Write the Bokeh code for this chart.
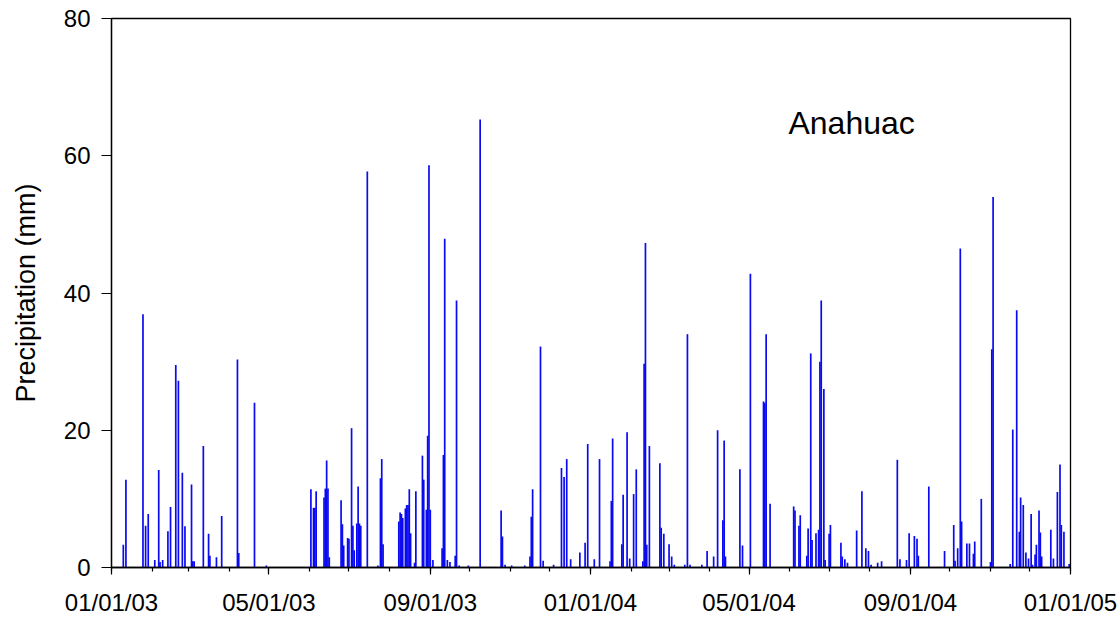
import pandas as pd
from bokeh.plotting import figure
from bokeh.models import FixedTicker, DatetimeTickFormatter, Label, ColumnDataSource, Range1d
from bokeh.embed import file_html
from bokeh.resources import INLINE

# Daily precipitation at Anahuac: day number counted from 01/01/03, and value (mm)
day_number = [
    9, 11, 24, 26, 28, 33, 36, 37, 39, 43, 45, 49, 51, 54, 56, 61, 62, 63, 70, 74,
    75, 80, 84, 96, 97, 109, 118,
    152, 154, 155, 156, 162, 163, 164, 165, 166, 175, 176, 177, 180, 181, 183, 184,
    185, 187, 188, 189, 190, 195, 203, 205, 206, 207, 219, 220, 221, 222, 224, 225,
    226, 227, 228, 231, 232, 237, 238, 240, 241, 242, 243,
    245, 252, 253, 254, 256, 258, 262, 263, 265, 272, 281, 297, 298, 300, 305, 315,
    319, 320, 321, 327, 329, 337, 343, 345, 347, 350, 357, 361, 363, 368,
    372, 380, 381, 382, 389, 390, 393, 395, 398, 400, 405, 406, 407, 408, 410, 418,
    419, 421, 425, 427, 429, 437, 439, 441, 450, 454, 459, 462, 466, 467, 468, 479,
    481, 487,
    497, 498, 499, 502, 520, 521, 524, 525, 530, 531, 533, 534, 537, 539, 540, 541,
    543, 544, 547, 548, 556, 557, 559, 561, 568, 572, 575, 577, 579, 584, 587, 599,
    601, 606, 608,
    612, 614, 615, 623, 635, 642, 643, 645, 647, 648, 652, 654, 657, 658, 663, 670,
    671, 672, 685, 687, 690, 692, 693, 695, 697, 699, 701, 702, 704, 705, 707, 708,
    709, 716, 718, 721, 723, 724, 726, 730,
]
precip_mm = [
    3.3, 12.8, 36.9, 6.1, 7.8, 1.1, 14.2, 0.8, 1.1, 5.3, 8.8, 29.5, 27.2, 13.8, 6.0, 12.1, 0.9, 0.9, 17.7, 4.9,
    1.7, 1.5, 7.5, 30.3, 2.1, 24.0, 0.3,
    11.4, 8.7, 8.7, 11.1, 10.2, 11.5, 15.6, 11.5, 1.5, 9.8, 6.3, 3.2, 4.3, 4.2, 20.3, 6.1,
    2.5, 6.4, 11.8, 6.4, 6.1, 57.7, 0.3, 13.0, 15.8, 3.4, 6.7, 8.0, 7.8, 7.2, 8.6, 9.1,
    9.1, 11.4, 5.0, 0.7, 11.1, 16.3, 12.8, 8.4, 19.2, 58.6, 8.4,
    1.1, 2.8, 16.4, 47.9, 1.1, 0.8, 1.7, 38.9, 0.3, 0.3, 65.3, 8.3, 4.5, 0.4, 0.3, 0.3,
    1.6, 7.4, 11.4, 32.2, 1.0, 0.4, 14.5, 13.2, 15.8, 1.2, 2.2, 3.6, 18.0, 1.2,
    15.8, 0.9, 9.7, 18.8, 3.4, 10.6, 19.7, 1.3, 10.7, 14.3, 0.9, 29.7, 47.3, 3.3, 17.7, 15.2,
    5.8, 4.9, 3.4, 1.6, 0.4, 0.4, 34.0, 0.4, 0.4, 2.4, 1.6, 20.0, 6.9, 18.5, 1.6, 14.3,
    3.2, 42.8,
    24.2, 24.0, 34.0, 9.3, 8.9, 8.3, 6.1, 7.6, 1.7, 5.7, 31.2, 4.0, 5.0, 5.5, 30.0, 38.9,
    26.0, 1.1, 4.9, 6.2, 3.6, 1.6, 1.2, 0.7, 5.4, 11.1, 2.8, 2.4, 0.4, 0.7, 0.9, 15.7,
    1.2, 1.1, 5.0,
    4.6, 4.2, 1.7, 11.8, 2.4, 6.2, 1.0, 2.8, 46.5, 6.7, 3.5, 3.5, 2.0, 3.8, 10.0, 0.8,
    31.8, 54.0, 0.5, 20.1, 37.5, 5.2, 10.2, 9.1, 2.2, 1.3, 7.8, 0.4, 1.9, 3.3, 8.3, 5.1,
    1.6, 5.5, 1.3, 11.0, 15.0, 6.2, 5.2, 0.5,
]

start_date = "2003-01-01"
end_date = "2005-01-01"
tick_dates = ["2003-01-01", "2003-05-01", "2003-09-01", "2004-01-01", "2004-05-01", "2004-09-01", "2005-01-01"]
tick_labels = ["01/01/03", "05/01/03", "09/01/03", "01/01/04", "05/01/04", "09/01/04", "01/01/05"]
y_ticks = [0, 20, 40, 60, 80]
station = "Anahuac"
y_title = "Precipitation (mm)"

start = pd.Timestamp(start_date)
dates = start + pd.to_timedelta(day_number, unit="D")
source = ColumnDataSource(dict(date=dates, zero=[0] * len(precip_mm), value=precip_mm))

def to_ms(ts):
    return int(pd.Timestamp(ts).value // 10**6)

major_ms = [to_ms(d) for d in tick_dates]
minor_ms = [to_ms(d) for d in pd.date_range(start_date, end_date, freq="MS")]

FONT = "Liberation Sans"

p = figure(width=1120, height=618, x_axis_type="datetime",
           x_range=Range1d(pd.Timestamp(start_date), pd.Timestamp(end_date)),
           y_range=Range1d(0, 80),
           output_backend="svg", toolbar_location=None,
           min_border_left=111, min_border_right=50, min_border_top=18, min_border_bottom=49)

p.segment(x0="date", y0="zero", x1="date", y1="value", source=source,
          line_color="#0a0af0", line_width=1.7)

p.xgrid.visible = False
p.ygrid.visible = False
p.outline_line_color = "black"
p.outline_line_width = 1.3
p.background_fill_color = "white"
p.border_fill_color = "white"

xa = p.xaxis[0]
xa.ticker = FixedTicker(ticks=major_ms, minor_ticks=minor_ms)
xa.formatter = DatetimeTickFormatter(days="%m/%d/%y", months="%m/%d/%y", years="%m/%d/%y")
xa.major_label_overrides = {ms: lab for ms, lab in zip(major_ms, tick_labels)}
xa.major_tick_in = 0
xa.major_tick_out = 7
xa.minor_tick_in = 0
xa.minor_tick_out = 4
xa.major_label_standoff = 14
xa.major_label_text_font = FONT
xa.major_label_text_font_size = "24px"
xa.major_label_text_color = "black"
xa.axis_line_width = 1.3
xa.axis_line_color = "black"
xa.major_tick_line_width = 1.2
xa.minor_tick_line_width = 1.2

ya = p.yaxis[0]
ya.ticker = FixedTicker(ticks=y_ticks)
ya.major_tick_in = 0
ya.major_tick_out = 10
ya.minor_tick_line_color = None
ya.major_label_standoff = 11
ya.major_label_text_font = FONT
ya.major_label_text_font_size = "24px"
ya.major_label_text_color = "black"
ya.axis_label = y_title
ya.axis_label_text_font = FONT
ya.axis_label_text_font_size = "27px"
ya.axis_label_text_font_style = "normal"
ya.axis_label_text_color = "black"
ya.axis_label_standoff = 20
ya.axis_line_width = 1.3
ya.axis_line_color = "black"
ya.major_tick_line_width = 1.2

p.add_layout(Label(x=pd.Timestamp("2004-05-31"), y=64.8, text=station,
                   text_font=FONT, text_font_size="32px", text_color="black",
                   text_baseline="alphabetic", text_align="left"))

open("out.html", "w").write(file_html(p, INLINE))
